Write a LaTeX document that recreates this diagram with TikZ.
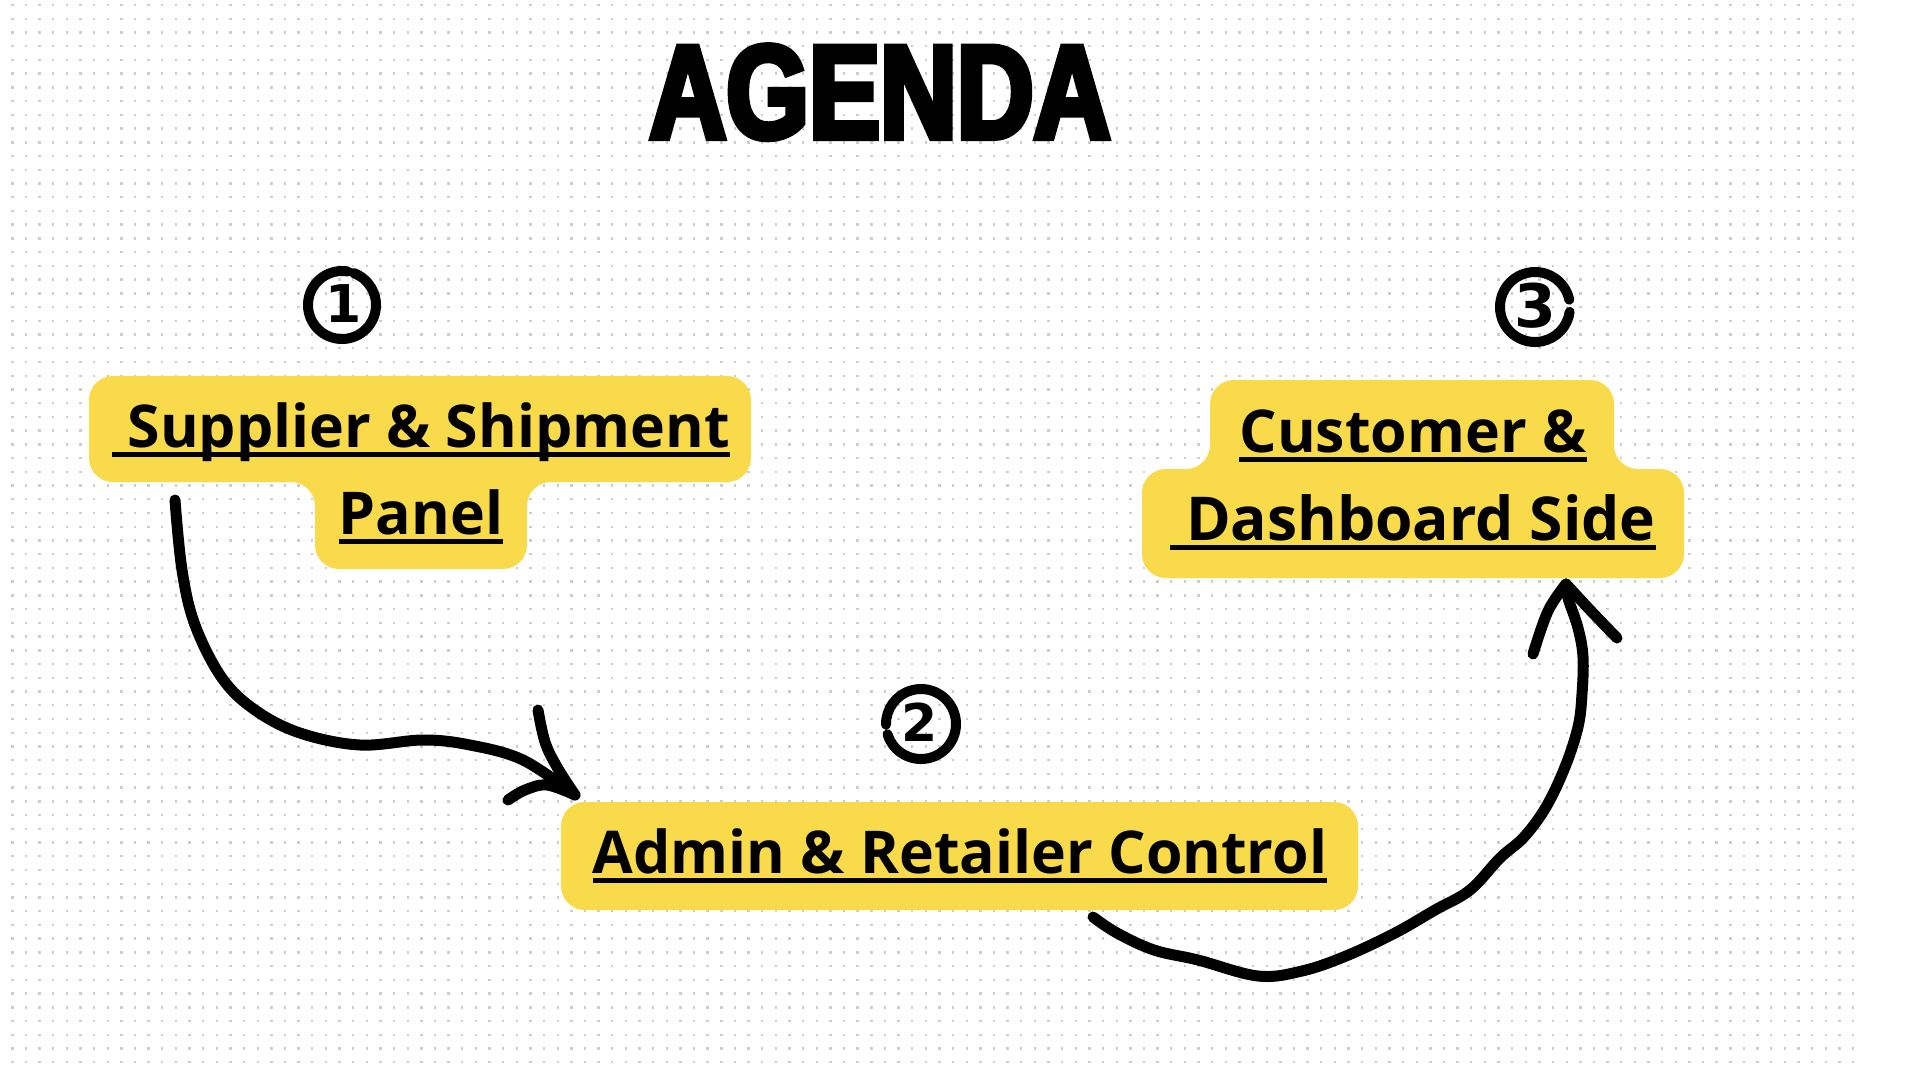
\documentclass[tikz,border=0pt]{standalone}
\usepackage{fontspec}
\newfontfamily\boxfont{Open Sans}
\newfontfamily\titlefont{Liberation Sans}[FakeStretch=0.8,BoldFeatures={FakeBold=4.5}]
\newfontfamily\numfont{DejaVu Sans}
\definecolor{boxyellow}{RGB}{249,218,75}
\definecolor{dotgray}{RGB}{205,205,205}
\begin{document}
\begin{tikzpicture}[x=1pt,y=-1pt,
  boxshape/.style={fill=boxyellow, rounded corners=24pt},
  boxtext/.style={font={\boxfont\bfseries\fontsize{59pt}{70pt}\selectfont}, inner sep=0pt, anchor=base},
  uline/.style={line width=5.5pt},
  numring/.style={line width=10pt, line cap=round},
  numtext/.style={font={\numfont\bfseries\fontsize{52pt}{60pt}\selectfont}, inner sep=0pt},
  brush/.style={line width=11pt, line cap=round, line join=round},
]
\fill[white] (0,0) rectangle (1920,1080);
\useasboundingbox (0,0) rectangle (1920,1080);

% dot grid
\foreach \r in {0,...,77} {
  \draw[dotgray, line width=2.4pt, dash pattern=on 2.4pt off 11.235pt] (11.1,5+13.73*\r) -- (1858,5+13.73*\r);
}

% title
\node[font={\titlefont\bfseries\fontsize{133pt}{140pt}\selectfont}, inner sep=0pt, anchor=base] (title) at (880,138) {AGENDA};

% boxes
\fill[boxshape] (89,376) -- (751,376) -- (751,482) -- (527,482) -- (527,569) -- (315,569) -- (315,482) -- (89,482) -- cycle;
\fill[boxshape] (561,802) rectangle (1358,910);
\fill[boxshape] (1210,380) -- (1614,380) -- (1614,469) -- (1684,469) -- (1684,578) -- (1142,578) -- (1142,469) -- (1210,469) -- cycle;

% box texts
\node[boxtext] (t1a) at (421,447) {\ Supplier \& Shipment};
\node[boxtext] (t1b) at (421,534) {Panel};
\node[boxtext] (t2) at (960,873) {Admin \& Retailer Control};
\node[boxtext] (t3a) at (1413,452) {Customer \&};
\node[boxtext, font={\boxfont\bfseries\fontsize{60.5pt}{70pt}\selectfont}] (t3b) at (1413,540) {\ Dashboard Side};
\foreach \n in {t1a,t1b,t2,t3a,t3b}
  \draw[uline] ([yshift=-7.5pt]\n.base west) -- ([yshift=-7.5pt]\n.base east);

% numbered rings
\coordinate (c1) at (342,305);
\coordinate (c2) at (921,724);
\coordinate (c3) at (1535,307);
\draw[numring] ([shift={(80:34pt)}]c1) arc[start angle=80, end angle=430, radius=34pt];
\draw[numring] ([shift={(197:35pt)}]c2) arc[start angle=197, end angle=541, radius=35pt];
\draw[numring] ([shift={(12:35pt)}]c3) arc[start angle=12, end angle=352, radius=35pt];
\node[numtext] (n1) at (344,304) {1};
\node[numtext] (n2) at (920,722) {2};
\node[numtext, font={\numfont\bfseries\fontsize{60pt}{66pt}\selectfont}] (n3) at (1535,306) {3};

% arrow 1
\coordinate (a1s) at (175,500);
\coordinate (a1t) at (575,795);
\coordinate (a1b1) at (538,710);
\coordinate (a1b2) at (508,800);
\draw[brush] plot[smooth, tension=0.6] coordinates {(a1s) (182,570) (195,625) (222,678) (255,710) (300,733) (360,745) (423,740) (470,745) (523,760) (a1t)};
\draw[brush] plot[smooth, tension=0.6] coordinates {(a1b1) (545,742) (557,767) (a1t)};
\draw[brush] plot[smooth, tension=0.6] coordinates {(a1b2) (525,790) (547,785) (a1t)};

% arrow 2
\coordinate (a2s) at (1093,917);
\coordinate (a2t) at (1566,584);
\coordinate (a2b1) at (1533,654);
\coordinate (a2b2) at (1617,638);
\draw[brush] plot[smooth, tension=0.6] coordinates {(a2s) (1117,933) (1154,950) (1198,960) (1258,976) (1302,971) (1346,956) (1395,933) (1435,910) (1470,890) (1500,858) (1524,837) (1546,807) (1565,767) (1578,727) (1582,694) (1583,657) (1578,628) (1568,598) (a2t)};
\draw[brush] plot[smooth, tension=0.6] coordinates {(a2b1) (1548,611) (a2t)};
\draw[brush] plot[smooth, tension=0.6] coordinates {(a2b2) (1591,611) (a2t)};
\end{tikzpicture}
\end{document}
